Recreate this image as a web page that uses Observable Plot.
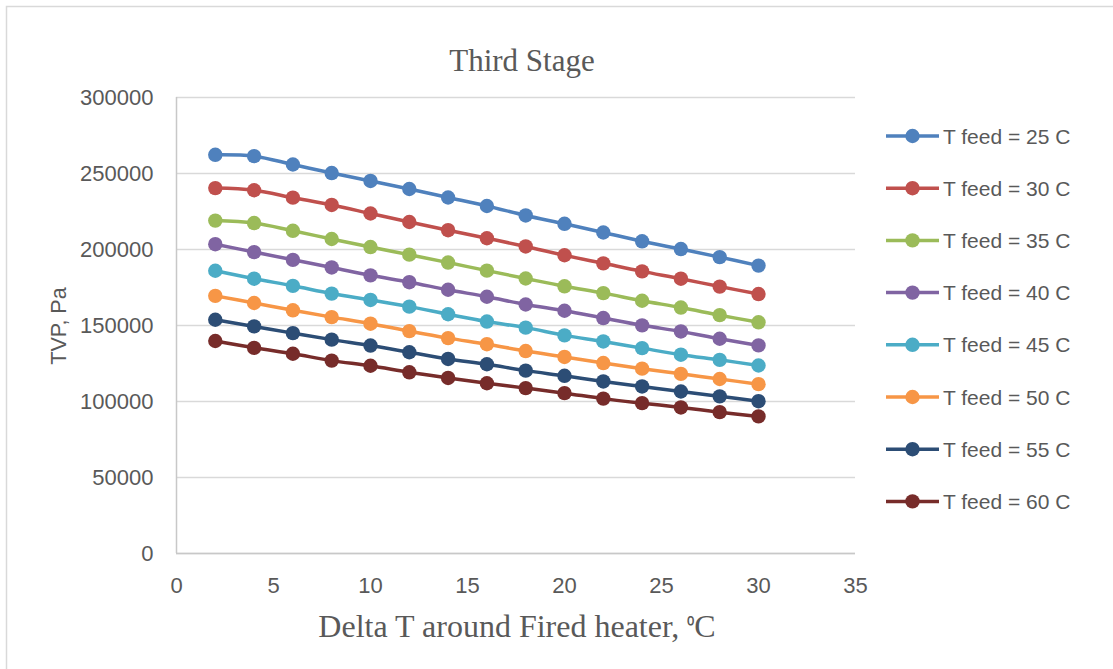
<!DOCTYPE html>
<html>
<head>
<meta charset="utf-8">
<script src="https://cdn.jsdelivr.net/npm/d3@7"></script>
<script src="https://cdn.jsdelivr.net/npm/@observablehq/plot@0.6"></script>
<style>
  html, body { margin: 0; padding: 0; background: #fff; }
  #chart { position: relative; width: 1113px; height: 669px; overflow: hidden; }
</style>
</head>
<body>
<div id="chart"></div>
<script>
const deltaT = [2, 4, 6, 8, 10, 12, 14, 16, 18, 20, 22, 24, 26, 28, 30];
const seriesNames = ["T feed = 25 C", "T feed = 30 C", "T feed = 35 C", "T feed = 40 C",
                     "T feed = 45 C", "T feed = 50 C", "T feed = 55 C", "T feed = 60 C"];
const tfeed25 = [262300, 261400, 255900, 250300, 245100, 239800, 234200, 228600, 222400, 216900, 211200, 205400, 200300, 195000, 189400];
const tfeed30 = [240400, 239000, 234100, 229300, 223700, 218100, 212700, 207400, 202000, 196200, 190900, 185600, 180800, 175600, 170700];
const tfeed35 = [219000, 217400, 212300, 206900, 201600, 196600, 191400, 186100, 180900, 175800, 171300, 166300, 161800, 156800, 152100];
const tfeed40 = [203500, 198300, 193200, 188200, 183000, 178500, 173500, 168900, 163800, 159700, 154900, 150100, 146100, 141300, 136900];
const tfeed45 = [186000, 180800, 176100, 171000, 166800, 162400, 157400, 152600, 148600, 143500, 139500, 135100, 130800, 127400, 123700];
const tfeed50 = [169500, 164800, 160000, 155500, 151200, 146300, 141700, 137700, 133200, 129300, 125300, 121600, 118200, 114800, 111400];
const tfeed55 = [153800, 149400, 145000, 140700, 136800, 132400, 128000, 124500, 120300, 116900, 113200, 109900, 106600, 103400, 100200];
const tfeed60 = [139800, 135300, 131400, 126900, 123500, 119200, 115500, 112000, 108800, 105500, 101900, 98900, 96100, 93000, 90200];
const seriesValues = [tfeed25, tfeed30, tfeed35, tfeed40, tfeed45, tfeed50, tfeed55, tfeed60];
const colors = ["#4F81BD", "#C0504D", "#9BBB59", "#8064A2", "#4BACC6", "#F79646", "#2C4D75", "#772C2A"];
const yTicks = [0, 50000, 100000, 150000, 200000, 250000, 300000];
const xTicks = [0, 5, 10, 15, 20, 25, 30, 35];
const titleText = "Third Stage";
const xTitleMain = "Delta T around Fired heater, ";
const xTitleSup = "\u2070";
const xTitleUnit = "C";
const yTitle = "TVP, Pa";

const rows = [];
seriesNames.forEach((name, i) => {
  deltaT.forEach((x, j) => rows.push({series: name, x, y: seriesValues[i][j]}));
});

const W = 1113, H = 669;
const mL = 176, mR = 258, mT = 97, mB = 116;
const textColor = "#595959";
const sans = "'Liberation Sans', Arial, sans-serif";
const serif = "'Liberation Serif', 'Times New Roman', serif";

const plot = Plot.plot({
  width: W, height: H,
  marginLeft: mL, marginRight: mR, marginTop: mT, marginBottom: mB,
  style: {fontFamily: sans, fontSize: "22px", color: textColor, background: "transparent"},
  x: {domain: [0, 35], ticks: xTicks, tickSize: 0, tickPadding: 24, label: null},
  y: {domain: [0, 300000], ticks: yTicks, tickSize: 0, tickPadding: 23, label: null, tickFormat: d => String(d)},
  color: {domain: seriesNames, range: colors},
  marks: [
    Plot.gridY(yTicks, {stroke: "#d9d9d9", strokeOpacity: 1, strokeWidth: 1.3}),
    Plot.ruleX([0], {stroke: "#c8c8c8", strokeWidth: 1.5}),
    Plot.ruleY([0], {stroke: "#c8c8c8", strokeWidth: 1.5}),
    Plot.axisX({ticks: xTicks, tickSize: 0, tickPadding: 24, fill: textColor, fontSize: 22}),
    Plot.axisY({ticks: yTicks, tickSize: 0, tickPadding: 23, fill: textColor, fontSize: 22, tickFormat: d => String(d)}),
    Plot.line(rows, {x: "x", y: "y", z: "series", stroke: "series", strokeWidth: 3.5, curve: "catmull-rom"}),
    Plot.dot(rows, {x: "x", y: "y", fill: "series", r: 7.2, stroke: null})
  ]
});

document.getElementById("chart").appendChild(plot);
const svg = d3.select(plot);

// outer chart border (Excel frame)
svg.insert("rect", ":first-child")
  .attr("x", 6.5).attr("y", 6.5).attr("width", W + 10).attr("height", H + 10)
  .attr("fill", "#fff").attr("stroke", "#d9d9d9").attr("stroke-width", 1.5);

function addText(x, y, txt, family, size, anchor, transform) {
  const t = svg.append("text")
    .style("font-family", family).style("font-size", size + "px")
    .style("fill", textColor).style("text-anchor", anchor)
    .text(txt);
  if (transform) t.attr("transform", transform);
  else t.attr("x", x).attr("y", y);
  return t;
}

// title
addText(522, 71, titleText, serif, 31, "middle");
// x-axis title with the superscript zero kept as the real character
const xt = addText(517, 637, xTitleMain, serif, 32, "middle");
xt.append("tspan").style("font-size", "21px").attr("dy", "-3").text(xTitleSup);
xt.append("tspan").attr("dy", "3").text(xTitleUnit);
// y-axis title
addText(0, 0, yTitle, sans, 21.5, "middle", "translate(66,326) rotate(-90)");

// legend
seriesNames.forEach((name, i) => {
  const cy = 136 + i * 52.2;
  const g = svg.append("g");
  g.append("line").attr("x1", 886).attr("x2", 939).attr("y1", cy).attr("y2", cy)
    .attr("stroke", colors[i]).attr("stroke-width", 3.5);
  g.append("circle").attr("cx", 912.5).attr("cy", cy).attr("r", 7.2).attr("fill", colors[i]);
  const t = addText(943, cy, name, sans, 21, "start");
  t.attr("dy", "0.36em");
});
</script>
</body>
</html>
